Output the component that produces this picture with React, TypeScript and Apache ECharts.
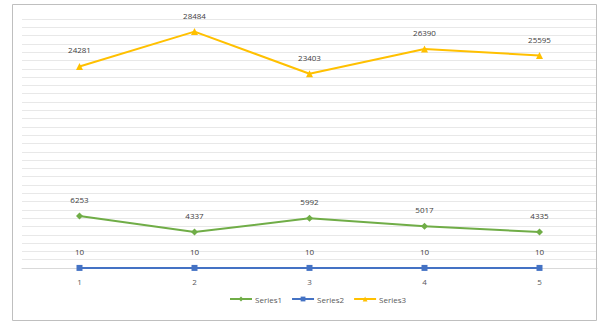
import React, { useEffect, useRef } from "react";
import * as echarts from "echarts";

const categories = ["1", "2", "3", "4", "5"];
const series1 = [6253, 4337, 5992, 5017, 4335];
const series2 = [10, 10, 10, 10, 10];
const series3 = [24281, 28484, 23403, 26390, 25595];

const FONT = "Open Sans";

export default function App() {
  const ref = useRef<HTMLDivElement>(null);
  useEffect(() => {
    const chart = echarts.init(ref.current!, null, { renderer: "svg" });
    const label = {
      show: true,
      position: "top" as const,
      distance: 9,
      fontSize: 8,
      color: "#404040",
      fontFamily: FONT,
    };
    const mk = (name: string, data: number[], color: string, symbol: string, size: number) => ({
      name,
      type: "line",
      data,
      symbol,
      symbolSize: size,
      itemStyle: { color },
      lineStyle: { color, width: 2 },
      label,
    });
    chart.setOption({
      animation: false,
      backgroundColor: "#ffffff",
      textStyle: { fontFamily: FONT },
      grid: { left: 22, right: 7, top: 19, bottom: 54, containLabel: false },
      xAxis: {
        type: "category",
        data: categories,
        boundaryGap: true,
        axisLine: { show: true, lineStyle: { color: "#d9d9d9" } },
        axisTick: { show: false },
        axisLabel: { fontSize: 8, color: "#595959", margin: 9, fontFamily: FONT },
      },
      yAxis: {
        type: "value",
        min: 0,
        max: 30000,
        interval: 1000,
        axisLabel: { show: false },
        axisLine: { show: false },
        axisTick: { show: false },
        splitLine: { show: true, lineStyle: { color: "#e8e8e8", width: 1 } },
      },
      legend: {
        bottom: 14,
        left: 224,
        itemWidth: 22,
        itemHeight: 6,
        itemGap: 9,
        textStyle: { fontSize: 8, color: "#595959", fontFamily: FONT, padding: [0, 0, 0, -2] },
        data: ["Series1", "Series2", "Series3"],
      },
      graphic: [
        {
          type: "rect",
          shape: { x: 12.5, y: 4.5, width: 584, height: 316 },
          style: { fill: "none", stroke: "#bfbfbf", lineWidth: 1 },
          silent: true,
          z: 100,
        },
      ],
      series: [
        mk("Series1", series1, "#70ad47", "diamond", 7),
        mk("Series2", series2, "#4472c4", "rect", 6),
        mk("Series3", series3, "#ffc000", "triangle", 7),
      ],
    });
    return () => chart.dispose();
  }, []);
  return <div ref={ref} style={{ width: 604, height: 322, position: "absolute", left: 0, top: 0 }} />;
}
